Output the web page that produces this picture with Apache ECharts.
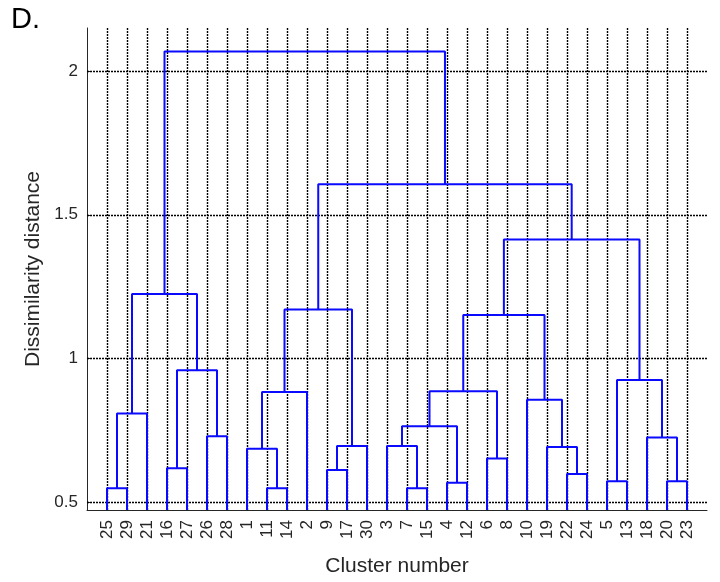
<!DOCTYPE html>
<html>
<head>
<meta charset="utf-8">
<script src="https://cdn.jsdelivr.net/npm/echarts@6/dist/echarts.min.js"></script>
<style>html,body{margin:0;padding:0;background:#fff;}#c{width:720px;height:582px;}</style>
</head>
<body>
<div id="c"></div>
<script>
// Leaf order along the x axis (cluster numbers)
const leafOrder = [25,29,21,16,27,26,28,1,11,14,2,9,17,30,3,7,15,4,12,6,8,10,19,22,24,5,13,18,20,23];
// Linkage (MATLAB-style): node ids 1..30 are leaves, 31+k is the k-th link
const linkLeft   = [25,11,7,4,5,20,22,9,16,6,1,19,3,38,18,26,43,31,10,41,47,35,39,51,50,48,54,55,56];
const linkRight  = [29,14,15,12,13,23,24,17,27,8,32,37,33,30,36,28,34,21,42,2,40,45,46,49,44,53,52,57,58];
const linkHeight = [0.548,0.548,0.548,0.567,0.573,0.573,0.598,0.612,0.618,0.652,0.686,0.692,0.695,0.695,0.725,0.729,0.764,0.808,0.856,0.883,0.886,0.925,0.959,1.151,1.170,1.224,1.414,1.606,2.068];
const yTicks = [0.5, 1, 1.5, 2];

const nLeaves = leafOrder.length;
const yMin = 0.4726, yMax = 2.15;

// positions and heights of nodes
const nodeX = {}, nodeH = {};
leafOrder.forEach((id, i) => { nodeX[id] = i + 1; nodeH[id] = yMin; });
const series = [];
for (let k = 0; k < linkHeight.length; k++) {
  const a = linkLeft[k], b = linkRight[k], h = linkHeight[k];
  const id = nLeaves + 1 + k;
  nodeX[id] = (nodeX[a] + nodeX[b]) / 2;
  nodeH[id] = h;
  series.push({
    type: 'line',
    data: [[nodeX[a], nodeH[a]], [nodeX[a], h], [nodeX[b], h], [nodeX[b], nodeH[b]]],
    symbol: 'none',
    lineStyle: { color: '#0a0aff', width: 2 },
    silent: true,
    z: 5
  });
}

// grid lines
const gridStyle = { color: '#000', width: 1.4, type: [2, 1] };
series.push({
  type: 'line',
  data: [],
  symbol: 'none',
  silent: true,
  z: 2,
  markLine: {
    silent: true,
    symbol: ['none', 'none'],
    label: { show: false },
    animation: false,
    lineStyle: gridStyle,
    data: leafOrder.map((_, i) => ({ xAxis: i + 1 })).concat(yTicks.map(v => ({ yAxis: v })))
  }
});

const chart = echarts.init(document.getElementById('c'));
const txt = '#262626';
chart.setOption({
  animation: false,
  backgroundColor: '#fff',
  textStyle: { fontFamily: 'Liberation Sans, Arial, sans-serif' },
  grid: { left: 87, right: 13, top: 28, bottom: 64, containLabel: false },
  graphic: [{
    type: 'text', left: 11, top: 5,
    style: { text: 'D.', font: '29px "Liberation Sans", Arial, sans-serif', fill: '#000' }
  }],
  xAxis: {
    type: 'value', min: 0, max: nLeaves + 1, interval: 1,
    name: 'Cluster number', nameLocation: 'middle', nameGap: 46,
    nameTextStyle: { fontSize: 21, color: txt },
    axisLine: { show: true, lineStyle: { color: '#262626', width: 1 } },
    axisTick: { show: false },
    splitLine: { show: false },
    axisLabel: {
      rotate: 90, margin: 10, fontSize: 17, color: txt,
      formatter: v => (v >= 1 && v <= nLeaves) ? String(leafOrder[v - 1]) : ''
    }
  },
  yAxis: {
    type: 'value', min: yMin, max: yMax,
    name: 'Dissimilarity distance', nameLocation: 'middle', nameGap: 43,
    nameTextStyle: { fontSize: 21, color: txt },
    axisLine: { show: true, lineStyle: { color: '#262626', width: 1 } },
    axisTick: { show: true, inside: true, length: 5, customValues: yTicks, lineStyle: { color: '#262626' } },
    splitLine: { show: false },
    axisLabel: { customValues: yTicks, fontSize: 17, color: txt, margin: 9 }
  },
  series: series
});
</script>
</body>
</html>
